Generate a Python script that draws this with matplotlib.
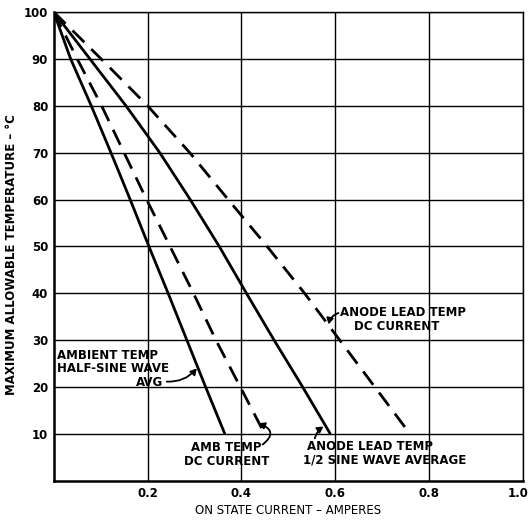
import matplotlib
matplotlib.use("Agg")
import matplotlib.pyplot as plt
from matplotlib.transforms import ScaledTranslation

# Data: temperature levels and current of each curve
temps = [100, 90, 80, 70, 60, 50, 40, 30, 20, 10]
amb_halfsine = [0.0, 0.036, 0.080, 0.122, 0.163, 0.203, 0.244, 0.284, 0.324, 0.365]
amb_dc = [0.0, 0.050, 0.102, 0.150, 0.198, 0.248, 0.298, 0.346, 0.398, 0.450]
anode_halfsine = [0.0, 0.077, 0.154, 0.226, 0.291, 0.353, 0.411, 0.470, 0.531, 0.590]
anode_dc = [0.0, 0.101, 0.200, 0.290, 0.372, 0.455, 0.535, 0.610, 0.685, 0.760]

xticks = [0.2, 0.4, 0.6, 0.8, 1.0]
xticklabels = ["0.2", "0.4", "0.6", "0.8", "1.0"]
yticks = [10, 20, 30, 40, 50, 60, 70, 80, 90, 100]

fig = plt.figure(figsize=(5.32, 5.20), dpi=100)
ax = fig.add_axes([0.101, 0.075, 0.8816, 0.902])
ax.set_xlim(0, 1.0)
ax.set_ylim(0, 100)

# grid
for xv in xticks:
    ax.axvline(xv, color="black", lw=1.0, zorder=1)
for yv in yticks:
    ax.axhline(yv, color="black", lw=1.0, zorder=1)

for s in ["left", "bottom"]:
    ax.spines[s].set_linewidth(1.8)
for s in ["top", "right"]:
    ax.spines[s].set_linewidth(1.0)

dash = (0, (6, 3.5))
lw = 2.0
ax.plot(amb_halfsine, temps, color="black", lw=lw, solid_capstyle="butt",
        solid_joinstyle="round", zorder=3)
ax.plot(amb_dc, temps, color="black", lw=lw, linestyle=dash, zorder=3)
ax.plot(anode_halfsine, temps, color="black", lw=lw, solid_capstyle="butt",
        solid_joinstyle="round", zorder=3)
ax.plot(anode_dc, temps, color="black", lw=lw, linestyle=dash, zorder=3)

ax.set_xticks(xticks)
ax.set_xticklabels(xticklabels, fontsize=8.5, fontweight="bold")
ax.set_yticks(yticks)
ax.set_yticklabels([str(v) for v in yticks], fontsize=8.5, fontweight="bold")
ax.tick_params(length=0, pad=4)
# keep the last x label inside the figure
lastlab = ax.get_xticklabels()[-1]
lastlab.set_transform(lastlab.get_transform() + ScaledTranslation(-5 / 100, 0, fig.dpi_scale_trans))

ax.set_xlabel("ON STATE CURRENT – AMPERES", fontsize=8.5, labelpad=3)
ax.set_ylabel("MAXIMUM ALLOWABLE TEMPERATURE – °C", fontsize=8.5, fontweight="bold")
ax.yaxis.set_label_coords(-0.076, 0.482)

tkw = dict(fontsize=8.5, fontweight="bold", va="center", zorder=5)
aprops = dict(arrowstyle="-|>,head_length=0.35,head_width=0.2", color="black", lw=1.3,
              shrinkA=1, shrinkB=0)

# Ambient temp half-sine
ax.text(0.008, 26.8, "AMBIENT TEMP", ha="left", **tkw)
ax.text(0.008, 24.0, "HALF-SINE WAVE", ha="left", **tkw)
ax.text(0.234, 21.0, "AVG", ha="right", **tkw)
ax.annotate("", xy=(0.305, 24.0), xytext=(0.238, 21.2),
            arrowprops=dict(connectionstyle="arc3,rad=0.25", **aprops))

# Amb temp DC current
ax.text(0.368, 7.2, "AMB TEMP", ha="center", **tkw)
ax.text(0.368, 4.2, "DC CURRENT", ha="center", **tkw)
ax.annotate("", xy=(0.437, 12.3), xytext=(0.443, 7.6),
            arrowprops=dict(connectionstyle="arc3,rad=0.9", **aprops))

# Anode lead temp 1/2 sine
ax.text(0.540, 7.4, "ANODE LEAD TEMP", ha="left", **tkw)
ax.text(0.531, 4.4, "1/2 SINE WAVE AVERAGE", ha="left", **tkw)
ax.annotate("", xy=(0.575, 11.6), xytext=(0.556, 8.8),
            arrowprops=dict(connectionstyle="arc3,rad=-0.2", **aprops))

# Anode lead temp DC
ax.text(0.611, 36.0, "ANODE LEAD TEMP", ha="left", **tkw)
ax.text(0.641, 33.0, "DC CURRENT", ha="left", **tkw)
ax.annotate("", xy=(0.586, 33.4), xytext=(0.610, 35.9),
            arrowprops=dict(connectionstyle="arc3,rad=0.3", **aprops))

fig.savefig("out.png", dpi=100)
